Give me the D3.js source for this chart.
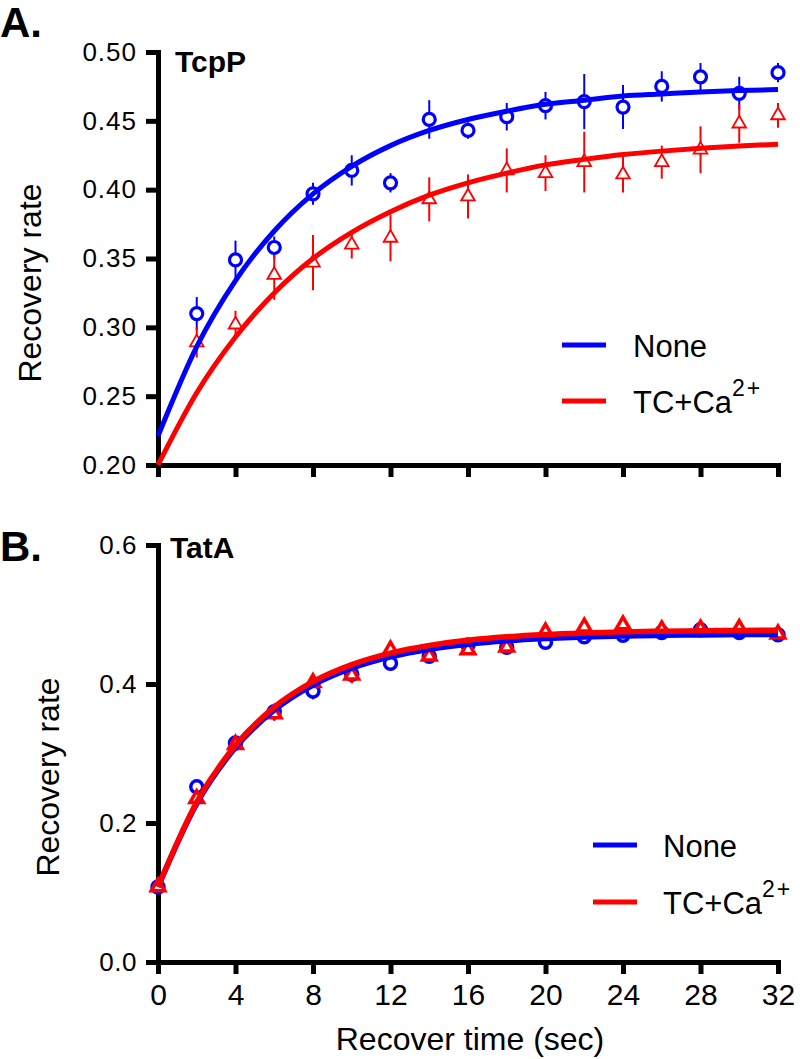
<!DOCTYPE html>
<html>
<head>
<meta charset="utf-8">
<script src="https://cdn.jsdelivr.net/npm/d3@7"></script>
<style>
  html, body { margin: 0; padding: 0; background: #fff; }
  svg text { font-family: "Liberation Sans", Arial, Helvetica, sans-serif; fill: #000; }
</style>
</head>
<body>
<svg id="chart" width="800" height="1059"></svg>
<script>
// ---------------- DATA ----------------
const seriesNames = ["None", "TC+Ca"];
const xTicks = [0, 4, 8, 12, 16, 20, 24, 28, 32];
const yTicksA = [0.20, 0.25, 0.30, 0.35, 0.40, 0.45, 0.50];
const yTicksB = [0.0, 0.2, 0.4, 0.6];

// Panel A (TcpP)
const timeA = [2, 4, 6, 8, 10, 12, 14, 16, 18, 20, 22, 24, 26, 28, 30, 32];
const noneA = [0.310, 0.349, 0.358, 0.397, 0.414, 0.405, 0.451, 0.443, 0.453, 0.461, 0.464, 0.460, 0.475, 0.482, 0.470, 0.485];
const noneAerr = [0.012, 0.014, 0.008, 0.008, 0.011, 0.007, 0.014, 0.006, 0.010, 0.010, 0.020, 0.016, 0.011, 0.010, 0.012, 0.007];
const tcA = [0.289, 0.302, 0.338, 0.347, 0.360, 0.365, 0.393, 0.395, 0.414, 0.412, 0.420, 0.411, 0.420, 0.429, 0.448, 0.454];
const tcAerr = [0.011, 0.010, 0.018, 0.020, 0.010, 0.017, 0.016, 0.016, 0.016, 0.013, 0.022, 0.013, 0.012, 0.017, 0.014, 0.009];

// fitted curves, panel A
const fitTime = [0, 2, 4, 6, 8, 10, 12, 14, 16, 18, 20, 22, 24, 26, 28, 30, 32];
const noneFitA = [0.221, 0.286, 0.334, 0.370, 0.397, 0.417, 0.432, 0.443, 0.451, 0.457, 0.462, 0.465, 0.468, 0.4695, 0.471, 0.472, 0.4727];
const tcFitA = [0.200, 0.2525, 0.293, 0.325, 0.350, 0.369, 0.384, 0.396, 0.405, 0.412, 0.418, 0.422, 0.4255, 0.428, 0.430, 0.4317, 0.433];

// Panel B (TatA)
const timeB = [0, 2, 4, 6, 8, 10, 12, 14, 16, 18, 20, 22, 24, 26, 28, 30, 32];
const noneB = [0.108, 0.252, 0.315, 0.360, 0.390, 0.414, 0.430, 0.440, 0.456, 0.453, 0.460, 0.468, 0.470, 0.474, 0.478, 0.474, 0.471];
const noneBerr = [0.005, 0.008, 0.008, 0.010, 0.012, 0.010, 0.010, 0.008, 0.006, 0.006, 0.008, 0.006, 0.006, 0.006, 0.006, 0.006, 0.006];
const tcB = [0.108, 0.235, 0.313, 0.357, 0.402, 0.413, 0.449, 0.440, 0.449, 0.453, 0.475, 0.482, 0.485, 0.478, 0.479, 0.480, 0.472];
const tcBerr = [0.005, 0.010, 0.008, 0.010, 0.012, 0.012, 0.008, 0.008, 0.006, 0.006, 0.008, 0.008, 0.008, 0.008, 0.008, 0.008, 0.006];

const noneFitB = [0.108, 0.228, 0.3085, 0.3624, 0.3985, 0.4227, 0.439, 0.4499, 0.4572, 0.4621, 0.4653, 0.4675, 0.469, 0.470, 0.4706, 0.4711, 0.4714];
const tcFitB = [0.108, 0.230, 0.3118, 0.3666, 0.4033, 0.4279, 0.4444, 0.4555, 0.4629, 0.4679, 0.4712, 0.4734, 0.475, 0.476, 0.4766, 0.4771, 0.4774];

// ---------------- DRAW ----------------
const BLUE = "#0000ff", RED = "#ff0000";
const svg = d3.select("#chart");

const x = d3.scaleLinear().domain([0, 32]).range([158, 778]);
const yA = d3.scaleLinear().domain([0.2, 0.5]).range([465, 52]);
const yB = d3.scaleLinear().domain([0, 0.6]).range([962, 545]);

function styleAxis(g, fontSize) {
  g.select(".domain").attr("stroke", "#000").attr("stroke-width", 5).attr("stroke-linecap", "square");
  g.selectAll(".tick line").attr("stroke", "#000").attr("stroke-width", 5);
  g.selectAll(".tick text").attr("font-size", fontSize).attr("fill", "#000")
    .style("font-family", '"Liberation Sans", Arial, sans-serif');
}

function panel(cfg) {
  const { y, yTicks, yFmt, yTickFont, times, none, noneErr, tc, tcErr, noneFit, tcFit,
          showXLabels, markerStrokeA, triStroke, fitWidth, errWidth } = cfg;
  const g = svg.append("g");

  // y axis
  const ay = g.append("g").attr("transform", `translate(${x(0)},0)`)
    .call(d3.axisLeft(y).tickValues(yTicks).tickFormat(d3.format(yFmt)).tickSize(12).tickSizeOuter(0).tickPadding(9));
  styleAxis(ay, yTickFont);
  ay.selectAll(".tick text").attr("letter-spacing", cfg.yLetterSpacing || 0);

  // x axis
  const ax = g.append("g").attr("transform", `translate(0,${y.range()[0]})`)
    .call(d3.axisBottom(x).tickValues(xTicks).tickSize(12).tickSizeOuter(0).tickPadding(10)
      .tickFormat(showXLabels ? d3.format("d") : () => ""));
  styleAxis(ax, 30);

  const line = (vals) => d3.line().x((d, i) => x(fitTime[i])).y(d => y(d)).curve(d3.curveMonotoneX)(vals);

  // error bars
  const eb = (vals, errs, color) => {
    g.append("g").selectAll("line").data(vals).join("line")
      .attr("x1", (d, i) => x(times[i])).attr("x2", (d, i) => x(times[i]))
      .attr("y1", (d, i) => y(d - errs[i])).attr("y2", (d, i) => y(d + errs[i]))
      .attr("stroke", color).attr("stroke-width", errWidth);
  };
  eb(none, noneErr, BLUE);
  eb(tc, tcErr, RED);

  // circles (None)
  g.append("g").selectAll("circle").data(none).join("circle")
    .attr("cx", (d, i) => x(times[i])).attr("cy", d => y(d)).attr("r", 6)
    .attr("fill", "#fff").attr("stroke", BLUE).attr("stroke-width", markerStrokeA);

  // triangles (TC+Ca)
  const tri = d3.symbol(d3.symbolTriangle, 80);
  g.append("g").selectAll("path").data(tc).join("path")
    .attr("d", tri)
    .attr("transform", (d, i) => `translate(${x(times[i])},${y(d)})`)
    .attr("fill", "#fff").attr("stroke", RED).attr("stroke-width", triStroke);

  // fit curves
  g.append("path").attr("d", line(noneFit)).attr("fill", "none").attr("stroke", BLUE).attr("stroke-width", fitWidth);
  g.append("path").attr("d", line(tcFit)).attr("fill", "none").attr("stroke", RED).attr("stroke-width", fitWidth);
  return g;
}

panel({ y: yA, yTicks: yTicksA, yFmt: ".2f", yTickFont: 26, yLetterSpacing: 1,
  times: timeA, none: noneA, noneErr: noneAerr, tc: tcA, tcErr: tcAerr,
  noneFit: noneFitA, tcFit: tcFitA, showXLabels: false,
  markerStrokeA: 3.2, triStroke: 1.8, fitWidth: 5, errWidth: 2 });

panel({ y: yB, yTicks: yTicksB, yFmt: ".1f", yTickFont: 26, yLetterSpacing: 0.5,
  times: timeB, none: noneB, noneErr: noneBerr, tc: tcB, tcErr: tcBerr,
  noneFit: noneFitB, tcFit: tcFitB, showXLabels: true,
  markerStrokeA: 3.5, triStroke: 3.5, fitWidth: 5.5, errWidth: 2.5 });

// panel letters and titles
svg.append("text").attr("x", 0).attr("y", 37).attr("font-size", 42).attr("font-weight", "bold").text("A.");
svg.append("text").attr("x", 0).attr("y", 561).attr("font-size", 42).attr("font-weight", "bold").text("B.");
svg.append("text").attr("x", 175).attr("y", 72).attr("font-size", 30).attr("font-weight", "bold").text("TcpP");
svg.append("text").attr("x", 170).attr("y", 558).attr("font-size", 30).attr("font-weight", "bold").text("TatA");

// y axis titles
svg.append("text").attr("transform", "translate(41,283) rotate(-90)").attr("text-anchor", "middle")
  .attr("font-size", 32).text("Recovery rate");
svg.append("text").attr("transform", "translate(59,777) rotate(-90)").attr("text-anchor", "middle")
  .attr("font-size", 32).text("Recovery rate");
// x axis title
svg.append("text").attr("x", 470).attr("y", 1050).attr("text-anchor", "middle")
  .attr("font-size", 32).text("Recover time (sec)");

// legends
function legend(x0, y0, gap, textX) {
  const g = svg.append("g");
  const items = [{ c: BLUE, name: seriesNames[0] }, { c: RED, name: seriesNames[1] }];
  items.forEach((it, i) => {
    const yy = y0 + i * gap;
    g.append("line").attr("x1", x0).attr("x2", x0 + 44).attr("y1", yy).attr("y2", yy)
      .attr("stroke", it.c).attr("stroke-width", 5);
    const t = g.append("text").attr("x", textX).attr("y", yy + 12).attr("font-size", 31).text(it.name);
    if (i === 1) {
      t.append("tspan").attr("font-size", 23).attr("dy", -17).attr("letter-spacing", 2).text("2+");
    }
  });
}
legend(562, 345, 56, 633);
legend(593, 845, 57, 663);
</script>
</body>
</html>
